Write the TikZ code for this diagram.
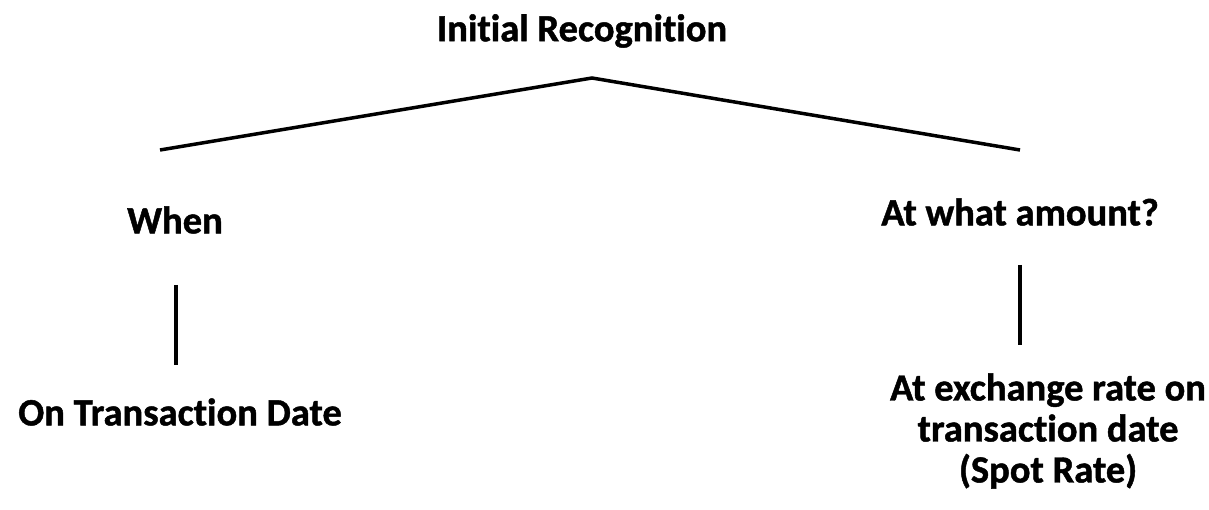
\documentclass[tikz,border=0pt]{standalone}
\usepackage{fontspec}
\setmainfont{Carlito}[Ligatures=NoCommon, BoldFeatures={FakeBold=1.2}]
\begin{document}
\begin{tikzpicture}[x=1pt,y=-1pt,
  lbl/.style={font=\bfseries\fontsize{38.5}{41}\selectfont, inner sep=0pt, align=center},
  conn/.style={line width=3.5pt, line cap=butt}]
\useasboundingbox (0,0) rectangle (1209,510);
\node[lbl] (root) at (582,31) {Initial Recognition};
\coordinate (apex) at (592,78);
\coordinate (lend) at (160,150);
\coordinate (rend) at (1020,150);
\draw[conn, line join=miter] (lend) -- (apex) -- (rend);
\node[lbl] (when) at (175,220) {When};
\node[lbl] (amt) at (1020,212) {At what amount?};
\coordinate (l1) at (176,285);
\coordinate (l2) at (176,365);
\coordinate (r1) at (1020,265);
\coordinate (r2) at (1020,345);
\draw[conn] (l1) -- (l2);
\draw[conn] (r1) -- (r2);
\node[lbl] (date) at (180,412) {On Transaction Date};
\node[lbl] (rate) at (1048,431) {At exchange rate on\\transaction date\\(Spot Rate)};
\end{tikzpicture}
\end{document}
